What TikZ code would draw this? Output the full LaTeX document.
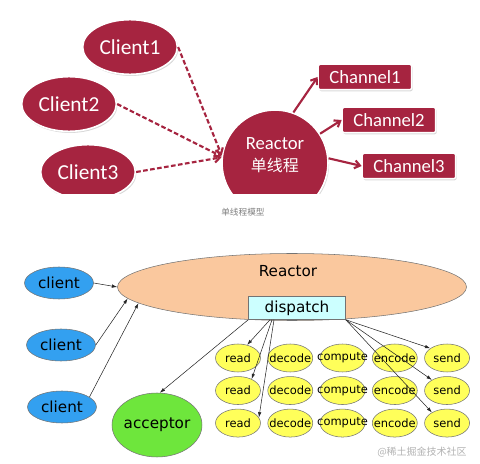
\documentclass[tikz,border=0pt]{standalone}
\usepackage{fontspec}
\newfontfamily\topfont{Carlito}
\newfontfamily\botfont{DejaVu Sans}
\newfontfamily\cjk{Noto Sans CJK SC}
\usetikzlibrary{shapes.geometric, positioning, arrows.meta, shadows}

\definecolor{wine}{RGB}{166,36,64}
\definecolor{peach}{RGB}{250,200,158}
\definecolor{paleblue}{RGB}{204,255,255}
\definecolor{skyblue}{RGB}{51,160,240}
\definecolor{leafgreen}{RGB}{110,230,60}
\definecolor{jobyellow}{RGB}{255,255,90}
\newcommand\slim[1]{\makebox[0pt]{#1}}

\begin{document}
\begin{tikzpicture}[x=0.75pt, y=-0.75pt,
    redshadow/.style={drop shadow={shadow xshift=0.8pt, shadow yshift=-1.2pt, opacity=0.3}},
    redblob/.style={ellipse, fill=wine, draw=white, line width=1.2pt, text=white, inner sep=0pt,
      minimum width=71pt, minimum height=41pt, font=\topfont\fontsize{16}{18}\selectfont, redshadow},
    chanbox/.style={rectangle, rounded corners=1.5pt, fill=wine, draw=white, line width=1pt, text=white,
      inner sep=0pt, minimum width=70pt, minimum height=19pt, font=\topfont\fontsize{14}{16}\selectfont, redshadow},
    dasharrow/.style={wine, line width=1.6pt, dash pattern=on 3.5pt off 1.8pt, -{Straight Barb[length=4pt, width=6pt]}},
    chanarrow/.style={wine, line width=1.6pt, -{Straight Barb[length=4pt, width=6pt]}},
    oval/.style={ellipse, draw=black!55, line width=0.4pt, inner sep=0pt, font=\botfont\fontsize{11.4}{13}\selectfont},
    job/.style={oval, fill=jobyellow, minimum width=33.75pt, minimum height=21pt, font=\botfont\fontsize{8.6}{10}\selectfont},
    link/.style={black!85, line width=0.4pt, -{Latex[length=4pt, width=2.6pt]}},
    node distance=24.4pt and 39.2pt, on grid]
  \useasboundingbox (0,0) rectangle (480,464);

  % single thread model
  \begin{scope}
    \clip (0,0) rectangle (480,194);
    \node[redblob] (client1) at (130,47) {Client1};
    \node[redblob] (client2) at (69,104) {Client2};
    \node[redblob] (client3) at (88,172) {Client3};
    \node[circle, fill=wine, draw=white, line width=1.2pt, minimum size=79.5pt, redshadow] (reactor) at (275,163) {};
    \node[text=white, align=center, inner sep=0pt, font=\topfont\fontsize{14}{17}\selectfont]
      (reactorText) at ([yshift=6pt]reactor.center) {Reactor\\{\cjk\fontsize{12}{14}\selectfont 单线程}};
    \node[chanbox] (chan1) at (365,77) {Channel1};
    \node[chanbox] (chan2) at (389,120) {Channel2};
    \node[chanbox] (chan3) at (409,166) {Channel3};

    \draw[dasharrow] (client1.east) -- (reactor.172);
    \draw[dasharrow] (client2.east) -- (reactor.173);
    \draw[dasharrow] (client3.east) -- (reactor.174);
    \draw[chanarrow] (reactor.70) -- (chan1.west);
    \draw[chanarrow] (reactor.33) -- (chan2.west);
    \draw[chanarrow] (reactor.5) -- (chan3.west);
  \end{scope}
  \node[text=black!50, font=\cjk\fontsize{6.5}{8}\selectfont] (caption) at (243,212) {单线程模型};

  % reactor with dispatch
  \node[oval, fill=peach, minimum width=261.75pt, minimum height=50.25pt] (loop) at (292,287) {};
  \node[font=\botfont\fontsize{11.4}{13}\selectfont] (loopTitle) at (288,271) {Reactor};
  \node[rectangle, fill=paleblue, draw=black!55, line width=0.4pt, minimum width=72.75pt, minimum height=17.25pt,
    inner sep=0pt, font=\botfont\fontsize{11.4}{13}\selectfont] (dispatch) at (297,308) {dispatch};
  \node[oval, fill=skyblue, minimum width=51.75pt, minimum height=24pt] (cl1) at (59,283) {client};
  \node[oval, fill=skyblue, minimum width=51.75pt, minimum height=24pt] (cl2) at (61,345) {client};
  \node[oval, fill=skyblue, minimum width=51.75pt, minimum height=24pt] (cl3) at (62,407) {client};
  \node[oval, fill=leafgreen, minimum width=67.5pt, minimum height=48pt] (acceptor) at (157,425) {\slim{acceptor}};

  \node[job] (read1) at (238,358) {\slim{read}};
  \node[job] (decode1) [right=of read1] {\slim{decode}};
  \node[job] (compute1) [right=of decode1] {\slim{compute}};
  \node[job] (encode1) [right=of compute1] {\slim{encode}};
  \node[job] (send1) [right=of encode1] {\slim{send}};
  \node[job] (read2) [below=of read1] {\slim{read}};
  \node[job] (decode2) [right=of read2] {\slim{decode}};
  \node[job] (compute2) [right=of decode2] {\slim{compute}};
  \node[job] (encode2) [right=of compute2] {\slim{encode}};
  \node[job] (send2) [right=of encode2] {\slim{send}};
  \node[job] (read3) [below=of read2] {\slim{read}};
  \node[job] (decode3) [right=of read3] {\slim{decode}};
  \node[job] (compute3) [right=of decode3] {\slim{compute}};
  \node[job] (encode3) [right=of compute3] {\slim{encode}};
  \node[job] (send3) [right=of encode3] {\slim{send}};

  \draw[link] (cl1.east) -- (loop.west);
  \draw[link] (cl2.east) -- (loop.184);
  \draw[link] (cl3.20) -- (loop.186);
  \draw[link, {Latex[length=4pt, width=2.6pt]}-] (acceptor.85) -- (dispatch.south west);
  \draw[link] ([xshift=-20.25pt]dispatch.south) -- (read1.55);
  \draw[link] ([xshift=-18.75pt]dispatch.south) -- (read2.40);
  \draw[link] ([xshift=-17.25pt]dispatch.south) -- (read3.15);
  \draw[link] (dispatch.south east) -- (send1.150);
  \draw[link] (dispatch.south east) -- (send2.145);
  \draw[link] (dispatch.south east) -- (send3.145);

  \node[text=black!30, font=\cjk\fontsize{7.5}{9}\selectfont] (watermark) at (422,452) {@稀土掘金技术社区};
\end{tikzpicture}
\end{document}
